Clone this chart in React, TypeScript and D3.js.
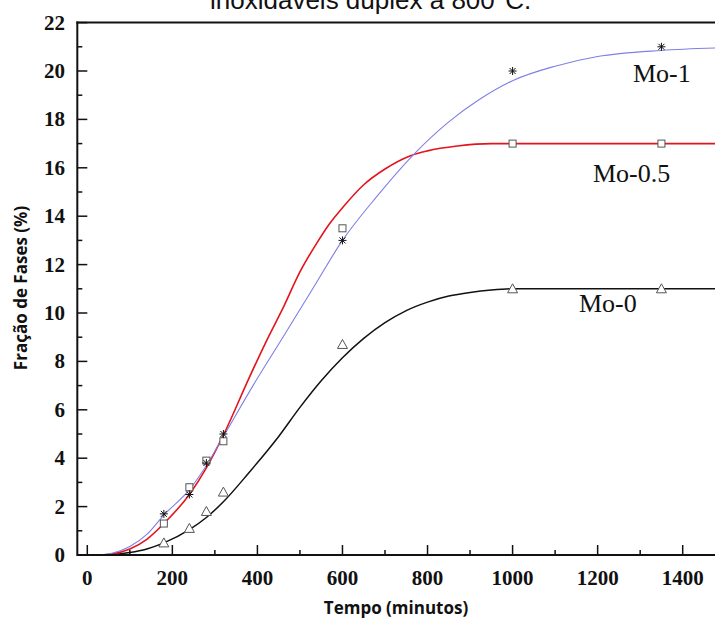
import React from "react";
import * as d3 from "d3";

const xTicks = [0, 200, 400, 600, 800, 1000, 1200, 1400];
const xMinor = [100, 300, 500, 700, 900, 1100, 1300, 1500];
const yTicks = [0, 2, 4, 6, 8, 10, 12, 14, 16, 18, 20, 22];
const yMinor = [1, 3, 5, 7, 9, 11, 13, 15, 17, 19, 21];

const sampleTimes = [180, 240, 280, 320, 600, 1000, 1350];
const mo1Points = [1.7, 2.5, 3.8, 5.0, 13.0, 20.0, 21.0];
const mo05Points = [1.3, 2.8, 3.9, 4.7, 13.5, 17.0, 17.0];
const mo0Points = [0.5, 1.1, 1.8, 2.6, 8.7, 11.0, 11.0];

const mo1Curve: [number, number][] = [
  [30, 0], [60, 0.08], [100, 0.35], [140, 0.85], [180, 1.65], [240, 2.7], [280, 3.7],
  [320, 4.9], [400, 7.3], [460, 9.0], [530, 11.0], [600, 13.0], [680, 14.8], [770, 16.6],
  [850, 17.9], [920, 18.8], [1000, 19.6], [1100, 20.2], [1200, 20.6], [1350, 20.85], [1480, 20.95],
];
const mo05Curve: [number, number][] = [
  [30, 0], [60, 0.05], [100, 0.25], [140, 0.65], [180, 1.3], [240, 2.5], [280, 3.6],
  [320, 4.95], [380, 7.3], [420, 8.8], [460, 10.2], [500, 11.7], [540, 12.9], [570, 13.7],
  [600, 14.35], [650, 15.3], [700, 15.95], [760, 16.5], [800, 16.7], [870, 16.9],
  [950, 17.0], [1480, 17.0],
];
const mo0Curve: [number, number][] = [
  [50, 0], [100, 0.1], [140, 0.25], [180, 0.5], [240, 1.05], [280, 1.55], [320, 2.2],
  [380, 3.4], [450, 4.9], [500, 6.1], [550, 7.2], [600, 8.15], [650, 8.95], [700, 9.6],
  [750, 10.1], [800, 10.45], [850, 10.7], [900, 10.85], [950, 10.95], [1000, 11.0], [1480, 11.0],
];

const seriesLabels = ["Mo-1", "Mo-0.5", "Mo-0"];

export default function App() {
  const W = 715, H = 622;
  const x = d3.scaleLinear().domain([0, 1400]).range([87.3, 682.7]);
  const y = d3.scaleLinear().domain([0, 22]).range([555, 22.6]);
  const left = x(-23.5);
  const line = d3
    .line<[number, number]>()
    .x((d) => x(d[0]))
    .y((d) => y(d[1]))
    .curve(d3.curveMonotoneX);

  const serif = "'Liberation Serif', 'Times New Roman', serif";
  const sans = "'Open Sans', 'Noto Sans', sans-serif";

  const asterisk = (cx: number, cy: number, k: number) => {
    const r = 4;
    return (
      <g key={k} stroke="#111" strokeWidth={1}>
        <line x1={cx - r} y1={cy} x2={cx + r} y2={cy} />
        <line x1={cx} y1={cy - r} x2={cx} y2={cy + r} />
        <line x1={cx - r * 0.75} y1={cy - r * 0.75} x2={cx + r * 0.75} y2={cy + r * 0.75} />
        <line x1={cx - r * 0.75} y1={cy + r * 0.75} x2={cx + r * 0.75} y2={cy - r * 0.75} />
      </g>
    );
  };

  return (
    <svg width={W} height={H} style={{ position: "absolute", left: 0, top: 0, background: "#fff" }}>
      <rect x={0} y={0} width={W} height={H} fill="#fff" />
      <text x={210} y={9} fontFamily="'Liberation Sans', Arial, sans-serif" fontSize={26} fill="#111">
        inoxidáveis dúplex a 800°C.
      </text>

      <defs>
        <clipPath id="plot">
          <rect x={left} y={y(22)} width={W - left} height={y(0) - y(22)} />
        </clipPath>
      </defs>

      <g clipPath="url(#plot)" fill="none">
        <path d={line(mo0Curve) || ""} stroke="#111" strokeWidth={1.5} />
        <path d={line(mo05Curve) || ""} stroke="#e3141b" strokeWidth={1.6} />
        <path d={line(mo1Curve) || ""} stroke="#7f7fe6" strokeWidth={1.1} />
      </g>

      <g>
        {sampleTimes.map((t, i) => (
          <rect key={"s" + i} x={x(t) - 3.5} y={y(mo05Points[i]) - 3.5} width={7} height={7}
            fill="#fff" stroke="#555" strokeWidth={1} />
        ))}
        {sampleTimes.map((t, i) => {
          const cx = x(t), cy = y(mo0Points[i]);
          return (
            <path key={"t" + i} d={`M${cx},${cy - 5}L${cx + 5},${cy + 4}L${cx - 5},${cy + 4}Z`}
              fill="#fff" stroke="#555" strokeWidth={1} />
          );
        })}
        {sampleTimes.map((t, i) => asterisk(x(t), y(mo1Points[i]), i))}
      </g>

      <g stroke="#111">
        <line x1={left} y1={y(0)} x2={W} y2={y(0)} strokeWidth={2} />
        <line x1={left} y1={y(0) + 1} x2={left} y2={y(22) - 1} strokeWidth={2} />
        <line x1={left - 1} y1={y(22)} x2={W} y2={y(22)} strokeWidth={2} />
        {xTicks.map((t) => (
          <line key={"xt" + t} x1={x(t)} x2={x(t)} y1={y(0)} y2={y(0) - 10} strokeWidth={1.5} />
        ))}
        {xMinor.map((t) => (
          <line key={"xm" + t} x1={x(t)} x2={x(t)} y1={y(0)} y2={y(0) - 5} strokeWidth={1.5} />
        ))}
        {yTicks.map((t) => (
          <line key={"yt" + t} x1={left} x2={left + 10} y1={y(t)} y2={y(t)} strokeWidth={1.5} />
        ))}
        {yMinor.map((t) => (
          <line key={"ym" + t} x1={left} x2={left + 5} y1={y(t)} y2={y(t)} strokeWidth={1.5} />
        ))}
      </g>

      <g fontFamily={serif} fontWeight="bold" fontSize={21} fill="#111">
        {xTicks.map((t) => (
          <text key={"xl" + t} x={x(t)} y={585} textAnchor="middle">{t}</text>
        ))}
        {yTicks.map((t) => (
          <text key={"yl" + t} x={65} y={y(t) + 7} textAnchor="end">{t}</text>
        ))}
      </g>

      <text x={396} y={614} textAnchor="middle" fontFamily={sans} fontWeight="bold" fontSize={17} fill="#111">
        Tempo (minutos)
      </text>
      <text transform="translate(27,288) rotate(-90)" textAnchor="middle" fontFamily={sans}
        fontWeight="bold" fontSize={17} fill="#111">
        Fração de Fases (%)
      </text>

      <g fontFamily={serif} fontSize={26} fill="#111">
        <text x={633} y={82}>{seriesLabels[0]}</text>
        <text x={593} y={182}>{seriesLabels[1]}</text>
        <text x={579} y={312}>{seriesLabels[2]}</text>
      </g>
    </svg>
  );
}
